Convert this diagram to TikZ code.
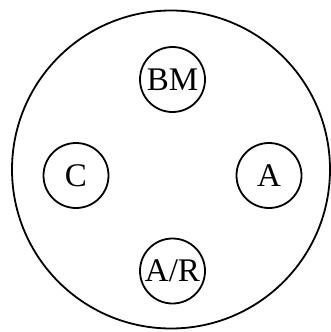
\documentclass[tikz,border=0pt]{standalone}
\usepackage{fontspec}
\setmainfont{Liberation Serif}
\begin{document}
\begin{tikzpicture}[x=1pt,y=-1pt,
  inner/.style={draw,circle,line width=1.8pt,minimum size=65pt,inner sep=0pt,font=\fontsize{33}{34}\selectfont}]
\useasboundingbox (0,0) rectangle (331,332);
\node[draw,circle,line width=1.8pt,minimum size=318pt,inner sep=0pt] (outer) at (171,169.5) {};
\node[inner] (bm) at (172.5,79.5) {BM};
\node[inner] (c) at (76,175.5) {C};
\node[inner] (a) at (269,175.5) {A};
\node[inner] (ar) at (172.5,271) {A/R};
\end{tikzpicture}
\end{document}
